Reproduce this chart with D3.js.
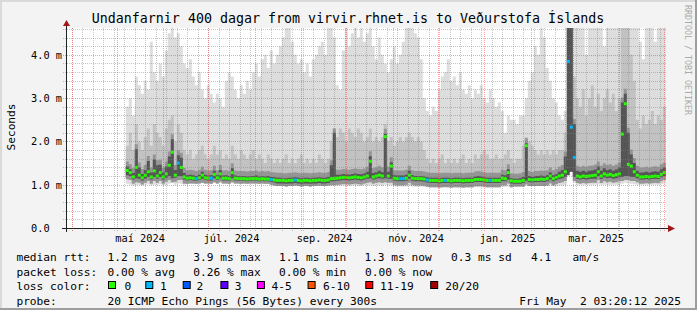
<!DOCTYPE html>
<html>
<head>
<meta charset="utf-8">
<script src="https://cdn.jsdelivr.net/npm/d3@7"></script>
<style>
  body { margin: 0; background: #f3f3f3; }
  svg { display: block; }
  text { font-family: "DejaVu Sans Mono", monospace; fill: #000; }
</style>
</head>
<body>
<div id="plt"></div>
<script>
// one sample every 2 days (ms)
const firstSample = "2024-05-07T00:00:00Z";
const stepDays = 2;

const med = [
  1.33,1.28,1.18,1.40,1.22,1.16,1.22,1.30,1.18,1.32,
  1.20,1.28,1.18,1.25,1.45,1.75,1.22,1.50,1.40,1.18,
  1.15,1.16,1.15,1.14,1.16,1.22,1.16,1.15,1.15,1.24,
  1.16,1.25,1.15,1.15,1.14,1.28,1.15,1.14,1.14,1.14,
  1.13,1.14,1.14,1.14,1.13,1.14,1.13,1.13,1.12,1.11,
  1.10,1.10,1.10,1.09,1.10,1.10,1.11,1.10,1.09,1.10,
  1.10,1.09,1.10,1.10,1.11,1.10,1.10,1.11,1.14,1.14,
  1.15,1.16,1.17,1.17,1.16,1.17,1.18,1.17,1.16,1.18,
  1.20,1.54,1.18,1.20,1.22,1.20,2.11,1.20,1.43,1.15,
  1.14,1.14,1.14,1.15,1.22,1.15,1.14,1.14,1.14,1.13,
  1.11,1.10,1.10,1.10,1.09,1.10,1.10,1.10,1.09,1.10,
  1.10,1.10,1.09,1.10,1.10,1.10,1.12,1.12,1.12,1.11,
  1.10,1.10,1.10,1.10,1.10,1.15,1.14,1.28,1.09,1.08,
  1.08,1.08,1.10,1.90,1.12,1.11,1.12,1.12,1.13,1.12,
  1.14,1.20,1.14,1.17,1.20,1.22,1.30,3.85,2.33,1.63,
  1.20,1.18,1.20,1.19,1.20,1.21,1.22,1.30,1.20,1.25,
  1.22,1.24,1.21,1.23,1.25,2.17,2.87,1.47,1.43,1.30,
  1.22,1.18,1.18,1.19,1.18,1.19,1.20,1.19,1.24,1.28
];

// lost pings (of 20) per sample
const loss = [
  0,0,0,0,0,0,0,0,0,0, 0,0,0,0,0,0,0,1,0,0, 0,0,0,1,0,0,0,0,1,0,
  0,0,0,0,0,0,0,0,0,0, 0,0,0,0,0,0,0,0,1,0, 0,0,0,0,0,0,1,0,0,0,
  0,0,0,0,0,0,0,0,0,0, 0,0,0,0,0,0,0,0,0,0, 0,0,0,0,0,0,0,0,0,0,
  0,1,1,0,0,0,0,0,0,0, 1,0,0,0,0,0,1,0,0,0, 0,0,0,0,0,0,0,0,0,0,
  0,1,0,0,0,0,0,0,0,0, 0,0,0,0,0,0,0,0,0,0, 0,0,0,0,0,0,0,1,1,1,
  0,0,0,0,0,0,0,0,0,0, 0,0,0,0,0,0,0,0,0,0, 0,0,0,0,0,0,0,0,0,0
];

// fastest ping
const lo = [
  1.02,1.00,0.98,0.99,1.00,0.99,1.00,1.01,0.99,1.00,
  1.00,1.01,0.99,1.00,1.02,1.04,1.00,1.03,1.02,1.00,
  1.02,1.03,1.03,1.02,1.03,1.04,1.03,1.03,1.02,1.04,
  1.03,1.04,1.03,1.03,1.02,1.04,1.03,1.03,1.02,1.03,
  1.02,1.03,1.03,1.03,1.02,1.03,1.02,1.02,1.00,0.98,
  0.97,0.97,0.97,0.96,0.97,0.97,0.98,0.97,0.96,0.97,
  0.97,0.96,0.97,0.97,0.98,0.97,0.97,0.98,0.99,0.99,
  0.98,0.98,0.98,0.97,0.97,0.98,0.98,0.97,0.97,0.98,
  0.98,0.99,0.97,0.98,0.98,0.97,1.00,0.98,0.99,0.96,
  0.96,0.96,0.96,0.96,0.97,0.96,0.95,0.95,0.95,0.95,
  0.94,0.93,0.93,0.93,0.93,0.93,0.94,0.93,0.93,0.93,
  0.93,0.93,0.93,0.93,0.93,0.93,0.94,0.94,0.94,0.93,
  0.93,0.93,0.93,0.93,0.93,0.95,0.95,0.96,0.94,0.96,
  0.96,0.96,0.96,0.98,0.97,0.97,0.97,0.97,0.97,0.97,
  0.97,0.98,0.97,0.97,0.98,0.98,1.00,1.28,1.30,1.05,
  1.00,1.00,1.00,1.00,1.00,1.00,1.00,1.01,1.00,1.00,
  1.00,1.00,1.00,1.00,1.00,1.02,1.05,1.03,1.02,1.01,
  1.00,1.00,1.00,1.00,1.00,1.00,1.00,1.00,1.01,1.02
];

// lower edge of the dark smoke
const dl = [
  1.22,1.20,1.12,1.15,1.14,1.10,1.14,1.18,1.12,1.18,
  1.14,1.18,1.12,1.16,1.20,1.15,1.16,1.20,1.20,1.12,
  1.10,1.11,1.10,1.09,1.11,1.14,1.11,1.10,1.10,1.15,
  1.11,1.16,1.10,1.10,1.09,1.15,1.10,1.09,1.09,1.09,
  1.08,1.09,1.09,1.09,1.08,1.09,1.08,1.08,1.07,1.05,
  1.03,1.03,1.03,1.02,1.03,1.03,1.04,1.03,1.02,1.03,
  1.03,1.02,1.03,1.03,1.04,1.03,1.03,1.04,1.08,1.08,
  1.09,1.10,1.11,1.11,1.10,1.11,1.12,1.11,1.10,1.12,
  1.14,1.15,1.12,1.14,1.15,1.14,1.15,1.14,1.14,1.09,
  1.08,1.08,1.08,1.09,1.14,1.09,1.08,1.08,1.08,1.07,
  1.05,1.04,1.04,1.04,1.03,1.04,1.04,1.04,1.03,1.04,
  1.04,1.04,1.03,1.04,1.04,1.04,1.06,1.06,1.06,1.05,
  1.04,1.04,1.04,1.04,1.04,1.08,1.08,1.12,1.03,1.02,
  1.02,1.02,1.04,1.10,1.06,1.05,1.06,1.06,1.07,1.06,
  1.08,1.12,1.08,1.11,1.13,1.15,1.18,1.22,1.30,1.18,
  1.13,1.12,1.13,1.12,1.13,1.14,1.14,1.20,1.13,1.17,
  1.15,1.16,1.14,1.15,1.17,1.18,1.20,1.20,1.18,1.18,
  1.15,1.12,1.12,1.13,1.12,1.13,1.14,1.13,1.17,1.20
];

// upper edge of the dark smoke
const dk = [
  1.42,1.36,1.27,1.82,1.40,1.25,1.34,1.55,1.28,1.58,
  1.45,1.46,1.28,1.42,1.65,2.05,1.34,1.68,1.62,1.27,
  1.22,1.23,1.22,1.20,1.23,1.30,1.23,1.21,1.22,1.32,
  1.22,1.34,1.21,1.22,1.20,1.38,1.21,1.20,1.20,1.20,
  1.19,1.20,1.20,1.21,1.19,1.20,1.19,1.20,1.18,1.17,
  1.16,1.16,1.15,1.15,1.16,1.16,1.17,1.16,1.15,1.16,
  1.16,1.15,1.16,1.16,1.17,1.16,1.16,1.18,1.45,2.20,
  1.23,1.23,1.25,1.24,1.23,1.25,1.26,1.25,1.24,1.26,
  1.30,1.66,1.27,1.29,1.32,1.29,2.18,1.30,1.52,1.22,
  1.21,1.21,1.21,1.23,1.32,1.22,1.20,1.20,1.20,1.19,
  1.17,1.16,1.16,1.16,1.15,1.16,1.16,1.16,1.15,1.16,
  1.16,1.16,1.15,1.16,1.16,1.16,1.19,1.20,1.19,1.17,
  1.16,1.16,1.16,1.16,1.16,1.23,1.22,1.36,1.15,1.14,
  1.14,1.15,1.18,1.96,1.20,1.18,1.20,1.20,1.21,1.20,
  1.22,1.28,1.22,1.25,1.30,1.34,1.65,4.70,4.70,2.40,
  1.32,1.30,1.32,1.30,1.32,1.33,1.35,1.42,1.32,1.38,
  1.34,1.36,1.32,1.35,1.40,2.90,3.10,2.20,1.70,1.50,
  1.32,1.28,1.28,1.30,1.28,1.30,1.31,1.30,1.36,1.40
];

// upper edge of the medium smoke
const md = [
  1.9,2.2,1.8,2.4,2.0,1.8,2.1,2.3,1.9,2.4,
  2.2,2.1,1.9,2.3,2.5,2.6,2.0,2.4,2.2,1.8,
  1.7,1.8,1.6,1.7,1.8,1.9,1.7,1.6,1.7,1.9,
  1.7,1.8,1.6,1.7,1.6,1.9,1.7,1.6,1.8,1.7,
  1.6,1.7,1.8,1.6,1.7,1.6,1.5,1.7,1.6,1.5,
  1.6,1.5,1.6,1.7,1.5,1.6,1.5,1.6,1.7,1.5,
  1.6,1.5,1.6,1.5,1.7,1.6,1.5,1.6,2.0,2.3,
  2.1,2.3,2.2,2.0,2.3,2.2,2.1,2.3,2.2,2.0,
  2.1,2.3,2.0,2.1,2.0,2.1,2.4,2.0,2.1,1.9,
  2.0,2.1,2.0,2.1,2.2,2.1,2.0,2.1,2.0,1.8,
  1.6,1.5,1.6,1.5,1.6,1.7,1.5,1.6,1.5,1.6,
  1.5,1.6,1.7,1.5,1.6,1.5,1.7,1.6,1.7,1.8,
  1.7,1.6,1.6,1.7,1.6,1.6,1.7,1.8,1.6,1.5,
  1.6,1.6,1.9,2.1,2.0,1.9,1.8,1.7,1.8,1.7,
  1.8,1.7,1.8,1.7,1.8,1.8,2.2,4.7,4.7,3.5,
  3.0,2.8,3.2,2.6,3.0,3.3,2.8,3.1,2.7,3.0,
  3.2,2.9,3.1,2.7,3.0,4.7,4.7,4.7,4.0,3.4,
  2.5,2.3,2.6,2.4,2.5,2.7,2.4,2.6,2.5,2.8
];

// slowest ping
const hi = [
  2.8,3.0,2.6,3.5,3.3,3.1,3.4,3.2,4.3,3.6,
  3.4,3.8,3.5,4.1,4.5,4.7,4.4,4.5,4.2,3.8,
  3.7,3.9,3.5,3.3,3.6,3.2,3.0,3.3,3.1,2.9,
  3.1,3.0,2.8,3.4,3.6,3.5,3.2,3.0,3.3,3.1,
  3.4,3.2,3.6,3.8,3.5,3.9,4.0,3.7,4.1,3.8,
  4.0,4.2,4.4,4.7,4.7,4.3,4.0,3.8,3.9,3.6,
  3.8,3.5,3.9,4.0,4.2,4.3,4.0,4.7,4.7,4.4,
  3.3,3.2,4.1,4.7,4.2,4.5,4.7,4.4,4.7,4.3,
  4.5,4.7,4.2,3.9,4.4,4.0,3.8,3.6,3.9,4.2,
  3.8,4.0,4.3,4.7,4.7,4.7,4.5,4.4,3.9,3.0,
  2.7,2.6,2.8,2.7,3.2,3.5,3.6,3.9,3.4,3.5,
  3.3,3.6,3.2,3.1,3.3,3.0,3.2,3.1,3.3,3.0,
  2.9,3.2,3.0,2.8,2.9,2.7,2.2,2.6,2.5,2.5,
  2.4,2.6,2.6,3.0,3.4,3.6,4.2,4.0,4.7,4.4,
  3.7,3.4,3.0,2.9,2.6,2.5,2.7,4.7,4.7,4.7,
  4.7,4.7,4.7,4.0,4.7,4.7,4.7,4.7,4.7,4.2,
  4.7,4.7,4.7,4.7,4.7,4.7,4.7,4.7,4.7,4.7,
  4.7,4.3,3.9,4.7,4.7,4.7,4.3,4.7,4.7,4.7
];

const endTime = "2025-05-02T03:20:12Z";
const spanDays = 400;
const yMax = 4.62;
const yTicks = [0, 1, 2, 3, 4];
const yTickLabels = ["0.0", "1.0 m", "2.0 m", "3.0 m", "4.0 m"];
const monthNames = ["jan.","feb.","mar.","apr.","maí","jún.","júl.","ágú.","sep.","okt.","nóv.","des."];

const title = "Undanfarnir 400 dagar from virvir.rhnet.is to Veðurstofa Íslands";
const rttStats = ["1.2 ms avg", "3.9 ms max", "1.1 ms min", "1.3 ms now", "0.3 ms sd", "4.1", "am/s"];
const lossStats = ["0.00 % avg", "0.26 % max", "0.00 % min", "0.00 % now"];
const lossLabels = ["0", "1", "2", "3", "4-5", "6-10", "11-19", "20/20"];
const lossColors = ["#26ff00", "#00b8ff", "#0059ff", "#5e00ff", "#ff00ff", "#ff5500", "#ff0000", "#a10000"];
const lossUpper = [0, 1, 2, 3, 5, 10, 19, 20];
const probeText = "20 ICMP Echo Pings (56 Bytes) every 300s";
const stampText = "Fri May\u00a0\u00a02 03:20:12 2025";

const W = 697, H = 310;
const px0 = 66, px1 = 666, py0 = 228, py1 = 28;

const svg = d3.select("#plt").append("svg")
    .attr("width", W).attr("height", H);

// background + 3d frame
svg.append("rect").attr("width", W).attr("height", H).attr("fill", "#f3f3f3");
svg.append("path").attr("d", `M1,${H} V1 H${W}`).attr("stroke", "#dadada").attr("stroke-width", 2).attr("fill", "none");
svg.append("path").attr("d", `M0,${H - 1} H${W - 1} V0`).attr("stroke", "#9e9e9e").attr("stroke-width", 2).attr("fill", "none");

svg.append("rect").attr("x", px0).attr("y", py1).attr("width", px1 - px0).attr("height", py0 - py1).attr("fill", "#fff");

const tEnd = new Date(endTime);
const tStart = d3.utcDay.offset(tEnd, -spanDays);
const x = d3.scaleUtc().domain([tStart, tEnd]).range([px0, px1]);
const y = d3.scaleLinear().domain([0, yMax]).range([py0, py1]).clamp(true);

const t0 = new Date(firstSample);
const rows = med.map((m, i) => ({
  t: d3.utcDay.offset(t0, i * stepDays), med: m, loss: loss[i],
  lo: lo[i], dl: dl[i], dk: dk[i], md: md[i], hi: hi[i]
}));
const stepRows = rows.concat([Object.assign({}, rows[rows.length - 1],
  { t: d3.utcDay.offset(rows[rows.length - 1].t, stepDays) })]);

const plot = svg.append("g");

// smoke layers, light to dark (a soft edge is drawn round the dark core)
const layers = [
  { fill: "#dddddd", y0: d => y(d.lo), y1: d => y(d.hi) },
  { fill: "#c2c2c2", y0: d => Math.min(y(d.lo), y(d.med) + 7), y1: d => y(d.md) },
  { fill: "#959595", y0: d => Math.min(y(d.lo), y(d.dl) + 4), y1: d => Math.max(y(d.md), y(d.dk) - 5) },
  { fill: "#555555", y0: d => y(d.dl), y1: d => y(d.dk) }
];
layers.forEach(l => {
  plot.append("path")
      .datum(stepRows)
      .attr("fill", l.fill)
      .attr("d", d3.area().curve(d3.curveStepAfter)
          .x(d => x(d.t)).y0(l.y0).y1(l.y1));
});

// median, coloured by loss
function lossIndex(n) { return lossUpper.findIndex(u => n <= u); }
plot.selectAll("rect.med")
    .data(rows)
    .enter().append("rect")
    .attr("class", "med")
    .attr("x", d => x(d.t))
    .attr("width", d => x(d3.utcDay.offset(d.t, stepDays)) - x(d.t))
    .attr("y", d => y(d.med) - 1.5)
    .attr("height", 3)
    .attr("fill", d => lossColors[lossIndex(d.loss)]);

// grid on top
const grid = svg.append("g").attr("fill", "none").attr("stroke-dasharray", "1,1");
const weeks = d3.utcMonday.range(tStart, tEnd);
const months = d3.utcMonth.range(tStart, tEnd);
grid.selectAll("line.wk").data(weeks).enter().append("line")
    .attr("x1", d => Math.round(x(d)) + 0.5).attr("x2", d => Math.round(x(d)) + 0.5)
    .attr("y1", py1).attr("y2", py0 + 3)
    .attr("stroke", "rgba(128,128,128,0.45)");
grid.selectAll("line.hm").data(d3.range(0.2, yMax, 0.2).filter(v => Math.abs(v - Math.round(v)) > 0.01)).enter().append("line")
    .attr("x1", px0 - 3).attr("x2", px1)
    .attr("y1", d => Math.round(y(d)) + 0.5).attr("y2", d => Math.round(y(d)) + 0.5)
    .attr("stroke", "rgba(128,128,128,0.45)");
grid.selectAll("line.mo").data(months).enter().append("line")
    .attr("x1", d => Math.round(x(d)) + 0.5).attr("x2", d => Math.round(x(d)) + 0.5)
    .attr("y1", py1).attr("y2", py0 + 3)
    .attr("stroke", "rgba(255,40,40,0.45)");
grid.selectAll("line.hM").data(yTicks.slice(1)).enter().append("line")
    .attr("x1", px0 - 3).attr("x2", px1)
    .attr("y1", d => Math.round(y(d)) + 0.5).attr("y2", d => Math.round(y(d)) + 0.5)
    .attr("stroke", "rgba(255,40,40,0.45)");

// axes
svg.append("line").attr("x1", px0 - 4).attr("x2", px1 + 4).attr("y1", py0 + 0.5).attr("y2", py0 + 0.5)
    .attr("stroke", "#222");
svg.append("line").attr("x1", px0 + 0.5).attr("x2", px0 + 0.5).attr("y1", py0 + 4).attr("y2", py1 - 4)
    .attr("stroke", "#222");
svg.append("path").attr("d", `M${px1 + 2},${py0 - 3} L${px1 + 9},${py0 + 0.5} L${px1 + 2},${py0 + 4} Z`).attr("fill", "#a01818");
svg.append("path").attr("d", `M${px0 - 3},${py1 - 2} L${px0 + 0.5},${py1 - 8} L${px0 + 4},${py1 - 2} Z`).attr("fill", "#a01818");

// y labels
svg.append("g").selectAll("text").data(yTicks).enter().append("text")
    .attr("x", 31).attr("y", d => y(d) + 4)
    .style("font-size", "10.3px")
    .text((d, i) => yTickLabels[i]);

// x labels every 2 months, centred on the month
const labelMonths = months.filter(m => m.getUTCMonth() % 2 === 0 && x(d3.utcHour.offset(m, 372)) < px1 - 20);
svg.append("g").selectAll("text").data(labelMonths).enter().append("text")
    .attr("x", d => x(d3.utcHour.offset(d, 372)))
    .attr("y", 242)
    .attr("text-anchor", "middle")
    .style("font-size", "10.3px")
    .text(d => monthNames[d.getUTCMonth()] + " " + d.getUTCFullYear());

// title and side labels
svg.append("text").attr("x", 348).attr("y", 23).attr("text-anchor", "middle")
    .style("font-size", "13.3px").text(title);
svg.append("text").attr("transform", "translate(14.5,127) rotate(-90)").attr("text-anchor", "middle")
    .style("font-size", "11.2px").text("Seconds");
svg.append("text").attr("transform", "translate(684.5,5) rotate(90)")
    .style("font-size", "8.3px").style("fill", "#aaaaaa").text("RRDTOOL / TOBI OETIKER");

// legend
const leg = svg.append("g").style("font-size", "11.2px");
const row = [261, 275.5, 290, 304.5];
leg.append("text").attr("x", 16.4).attr("y", row[0]).text("median rtt:");
[107.6, 193.3, 279, 364.4, 451, 531, 572.4].forEach((lx, i) =>
  leg.append("text").attr("x", lx).attr("y", row[0]).text(rttStats[i]));
leg.append("text").attr("x", 16.4).attr("y", row[1]).text("packet loss:");
[107.6, 193.3, 279, 365].forEach((lx, i) =>
  leg.append("text").attr("x", lx).attr("y", row[1]).text(lossStats[i]));
leg.append("text").attr("x", 16.4).attr("y", row[2]).text("loss color:");
const boxX = [108, 145.3, 182.7, 220.4, 256.9, 307.6, 365.3, 430.2];
const labX = [124.4, 160, 196.4, 234.7, 271.6, 323, 380, 445.3];
lossLabels.forEach((lab, i) => {
  leg.append("rect").attr("x", boxX[i] + 0.5).attr("y", row[2] - 8.5).attr("width", 7).attr("height", 7)
      .attr("fill", lossColors[i]).attr("stroke", "#000");
  leg.append("text").attr("x", labX[i]).attr("y", row[2]).text(lab);
});
leg.append("text").attr("x", 16.4).attr("y", row[3]).text("probe:");
leg.append("text").attr("x", 107.6).attr("y", row[3]).text(probeText);
leg.append("text").attr("x", 681).attr("y", row[3]).attr("text-anchor", "end").text(stampText);
</script>
</body>
</html>
